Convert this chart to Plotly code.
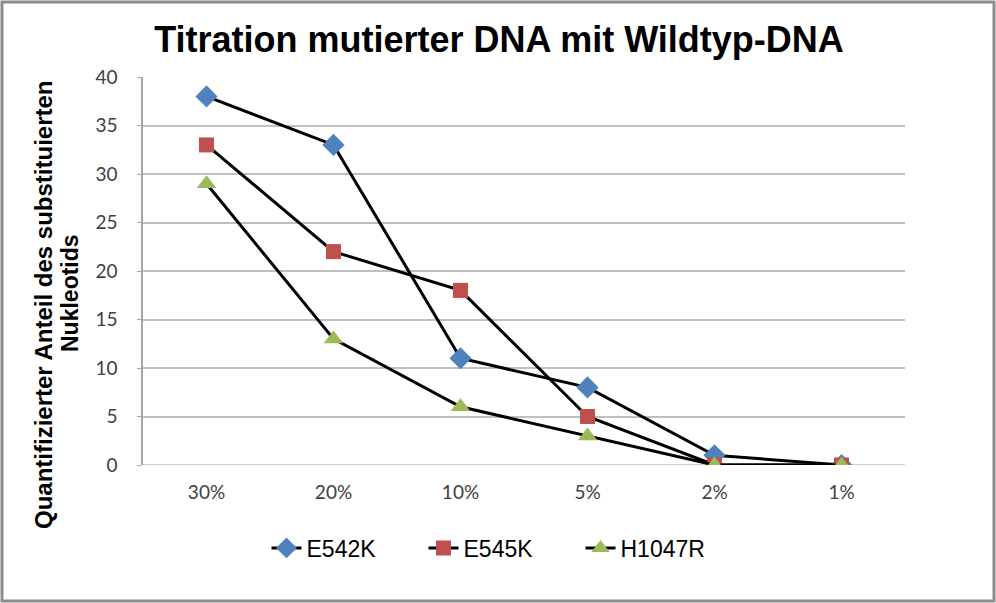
import plotly.graph_objects as go

categories = ["30%", "20%", "10%", "5%", "2%", "1%"]
e542k = [38, 33, 11, 8, 1, 0]
e545k = [33, 22, 18, 5, 0, 0]
h1047r = [29, 13, 6, 3, 0, 0]

W, H = 996, 603
L, R, T, B = 143, 91, 77, 138
pw, ph = W - L - R, H - T - B

def px_x(x):
    return (x - L) / pw

def px_y(y):
    return (H - B - y) / ph

fig = go.Figure()
series = [
    ("E542K", e542k, "#4F81BD", "diamond", 17),
    ("E545K", e545k, "#C0504D", "square", 15),
    ("H1047R", h1047r, "#9BBB59", "triangle-up", 17),
]
for name, vals, col, sym, sz in series:
    fig.add_trace(go.Scatter(
        x=categories, y=vals, name=name, mode="lines+markers",
        line=dict(color="black", width=3),
        marker=dict(color=col, symbol=sym, size=sz, line=dict(width=0)),
    ))

fig.update_layout(
    width=W, height=H,
    margin=dict(l=L, r=R, t=T, b=B),
    paper_bgcolor="white", plot_bgcolor="white",
    title=dict(text="<b>Titration mutierter DNA mit Wildtyp-DNA</b>",
               x=499 / W, xanchor="center", y=1 - 39 / H, yanchor="middle",
               font=dict(family="Liberation Sans, Arial", size=36, color="black")),
    xaxis=dict(type="category", range=[-0.5, 5.5], showgrid=False,
               showline=False, ticks="", zeroline=False, ticklabelstandoff=14,
               tickfont=dict(family="Lato, Liberation Sans", size=19, color="#404040")),
    yaxis=dict(range=[0, 40], dtick=5, showgrid=True, gridcolor="#BFBFBF",
               gridwidth=1.5, showline=True, linecolor="#A6A6A6", linewidth=1.5,
               ticks="outside", ticklen=4, tickcolor="#A6A6A6", zeroline=False,
               ticklabelstandoff=16,
               tickfont=dict(family="Lato, Liberation Sans", size=19, color="#404040")),
    legend=dict(orientation="h", x=px_x(502), xanchor="center", y=px_y(548),
                yanchor="middle", entrywidth=112,
                font=dict(family="Liberation Sans, Arial", size=23, color="black"),
                tracegroupgap=0),
    showlegend=True,
)

# y-axis title as two rotated lines
fig.add_annotation(text="<b>Quantifizierter Anteil des substituierten</b>",
                   xref="paper", yref="paper", x=px_x(43), y=px_y(305),
                   xanchor="center", yanchor="middle", textangle=-90, showarrow=False,
                   font=dict(family="Liberation Sans, Arial", size=24, color="black"))
fig.add_annotation(text="<b>Nukleotids</b>",
                   xref="paper", yref="paper", x=px_x(70), y=px_y(293),
                   xanchor="center", yanchor="middle", textangle=-90, showarrow=False,
                   font=dict(family="Liberation Sans, Arial", size=23, color="black"))

# outer frame
fig.add_shape(type="rect", xref="paper", yref="paper",
              x0=px_x(2), x1=px_x(W - 2),
              y0=px_y(H - 2), y1=px_y(2),
              line=dict(color="#8C8C8C", width=3), layer="below")
# baseline at 0
fig.add_shape(type="line", xref="paper", yref="y", x0=0, x1=1, y0=0, y1=0,
              line=dict(color="#BFBFBF", width=1.5), layer="below")

fig.write_html("out.html", config={"displayModeBar": False},
               post_script="document.body.style.margin='0';")
